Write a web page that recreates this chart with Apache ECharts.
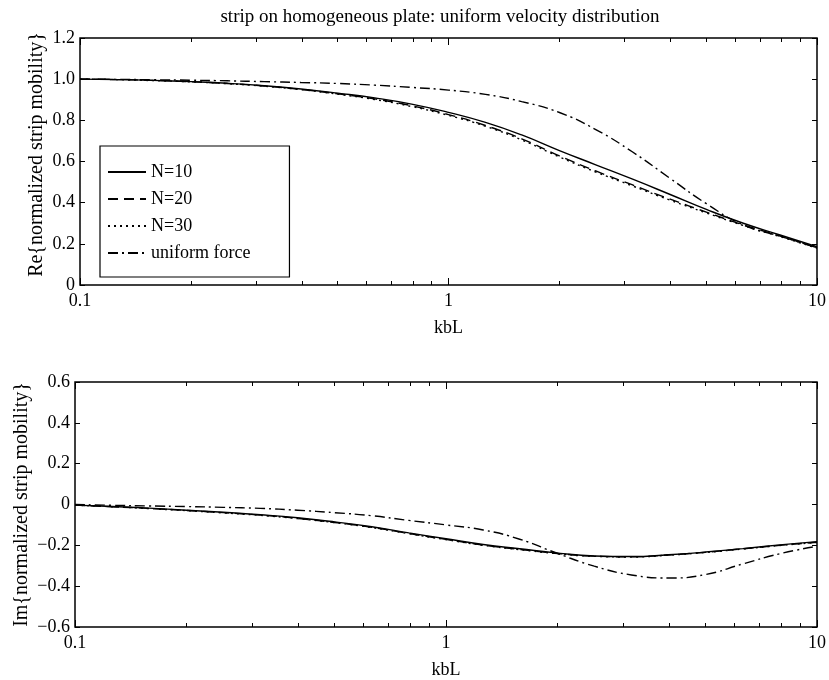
<!DOCTYPE html>
<html>
<head>
<meta charset="utf-8">
<script src="https://cdn.jsdelivr.net/npm/echarts@6/dist/echarts.min.js"></script>
<style>
  html, body { margin: 0; padding: 0; background: #fff; }
  #chart { width: 829px; height: 680px; }
</style>
</head>
<body>
<div id="chart"></div>
<script>
// Non-dimensional frequency kbL, ten points per decade
const kbL = [0.1, 0.126, 0.158, 0.2, 0.251, 0.316, 0.398, 0.501, 0.631, 0.794, 1.0, 1.26, 1.58, 2.0, 2.51, 3.16, 3.98, 5.01, 6.31, 7.94, 10];

// Real part of normalized strip mobility
const reN10     = [1.0, 0.998, 0.994, 0.988, 0.980, 0.968, 0.952, 0.932, 0.909, 0.879, 0.839, 0.790, 0.729, 0.653, 0.584, 0.514, 0.441, 0.367, 0.300, 0.243, 0.186];
const reN20     = [1.0, 0.998, 0.994, 0.988, 0.979, 0.967, 0.950, 0.929, 0.904, 0.871, 0.828, 0.775, 0.710, 0.627, 0.554, 0.486, 0.418, 0.354, 0.292, 0.238, 0.181];
const reN30     = [1.0, 0.998, 0.993, 0.987, 0.978, 0.966, 0.949, 0.927, 0.901, 0.867, 0.824, 0.771, 0.705, 0.622, 0.549, 0.481, 0.413, 0.350, 0.289, 0.235, 0.179];
const reUniform = [1.0, 0.999, 0.997, 0.995, 0.992, 0.988, 0.984, 0.979, 0.971, 0.960, 0.947, 0.926, 0.891, 0.838, 0.755, 0.646, 0.520, 0.395, 0.292, 0.237, 0.181];

// Imaginary part of normalized strip mobility
const imN10     = [-0.003, -0.010, -0.018, -0.028, -0.038, -0.050, -0.065, -0.085, -0.109, -0.139, -0.168, -0.196, -0.217, -0.238, -0.252, -0.255, -0.246, -0.233, -0.216, -0.198, -0.182];
const imN20     = [-0.003, -0.011, -0.019, -0.029, -0.040, -0.052, -0.068, -0.088, -0.112, -0.142, -0.171, -0.199, -0.220, -0.240, -0.253, -0.256, -0.247, -0.234, -0.217, -0.200, -0.185];
const imN30     = [-0.003, -0.011, -0.020, -0.030, -0.041, -0.053, -0.069, -0.089, -0.113, -0.143, -0.172, -0.200, -0.221, -0.241, -0.254, -0.257, -0.248, -0.235, -0.218, -0.201, -0.186];
const imUniform = [0.0, -0.004, -0.007, -0.010, -0.014, -0.019, -0.028, -0.040, -0.055, -0.078, -0.100, -0.125, -0.170, -0.240, -0.302, -0.345, -0.360, -0.343, -0.291, -0.241, -0.205];

// Axis ticks and labels
const xMajorTicks  = [0.1, 1, 10];
const xMinorTicks  = [0.2, 0.3, 0.4, 0.5, 0.6, 0.7, 0.8, 0.9, 2, 3, 4, 5, 6, 7, 8, 9];
const seriesNames  = ['N=10', 'N=20', 'N=30', 'uniform force'];
const dashTypes    = ['solid', [10, 6], [2, 4], [10, 4, 2, 4]];

const FONT = 'Liberation Serif';
const chart = echarts.init(document.getElementById('chart'), null, { renderer: 'canvas' });

function pairs(ys) { return kbL.map((k, i) => [k, ys[i]]); }

function fmtY(v) {
  if (Math.abs(v) < 1e-9) return '0';
  return v.toFixed(1).replace('-', '\u2212');
}

// Four log axes per panel: major/minor ticks along the bottom and top edges
function xAxesFor(gridIndex) {
  const base = {
    type: 'log', gridIndex, min: 0.1, max: 10, logBase: 10,
    axisLine: { show: false, onZero: false }, splitLine: { show: false }
  };
  const tick = (len, vals) => ({ show: true, inside: true, length: len, lineStyle: { color: '#000', width: 1 }, customValues: vals });
  return [
    Object.assign({}, base, {
      position: 'bottom',
      name: 'kbL', nameLocation: 'middle', nameGap: 34, nameMoveOverlap: false,
      nameTextStyle: { fontFamily: FONT, fontSize: 18, color: '#000' },
      axisTick: tick(7, xMajorTicks),
      axisLabel: { fontFamily: FONT, fontSize: 18, color: '#000', margin: 7, customValues: xMajorTicks,
                   formatter: v => String(+v.toPrecision(3)) }
    }),
    Object.assign({}, base, { position: 'bottom', axisTick: tick(4, xMinorTicks), axisLabel: { show: false } }),
    Object.assign({}, base, { position: 'top', axisTick: tick(7, xMajorTicks), axisLabel: { show: false } }),
    Object.assign({}, base, { position: 'top', axisTick: tick(4, xMinorTicks), axisLabel: { show: false } })
  ];
}

function yAxesFor(gridIndex, min, max, name, nameGap, namePad) {
  const tick = { show: true, inside: true, length: 5, lineStyle: { color: '#000', width: 1 } };
  return [
    {
      type: 'value', gridIndex, position: 'left', min, max, interval: 0.2,
      name, nameLocation: 'middle', nameGap, nameMoveOverlap: false,
      nameTextStyle: { fontFamily: FONT, fontSize: 20, color: '#000', padding: namePad },
      axisLine: { show: false, onZero: false }, splitLine: { show: false },
      axisTick: tick,
      axisLabel: { fontFamily: FONT, fontSize: 18, color: '#000', margin: 5, formatter: fmtY }
    },
    {
      type: 'value', gridIndex, position: 'right', min, max, interval: 0.2,
      axisLine: { show: false, onZero: false }, splitLine: { show: false },
      axisTick: tick, axisLabel: { show: false }
    }
  ];
}

const reSets = [reN10, reN20, reN30, reUniform];
const imSets = [imN10, imN20, imN30, imUniform];

const series = [];
seriesNames.forEach((name, i) => {
  const common = {
    name, type: 'line', showSymbol: false, symbol: 'none', smooth: 0.5,
    lineStyle: { color: '#000', width: 1.4, type: dashTypes[i] },
    itemStyle: { color: '#000' }, z: 3, animation: false
  };
  series.push(Object.assign({}, common, { xAxisIndex: 0, yAxisIndex: 0, data: pairs(reSets[i]) }));
  series.push(Object.assign({}, common, { xAxisIndex: 4, yAxisIndex: 2, data: pairs(imSets[i]) }));
});

chart.setOption({
  animation: false,
  backgroundColor: '#fff',
  title: {
    text: 'strip on homogeneous plate: uniform velocity distribution',
    left: 440, textAlign: 'center', top: 8, padding: 0,
    textStyle: { fontFamily: FONT, fontSize: 19, fontWeight: 'normal', color: '#000' }
  },
  legend: {
    data: seriesNames, orient: 'vertical', left: 100, top: 146,
    padding: [17, 39, 15, 7], itemGap: 9, itemWidth: 38, itemHeight: 14,
    backgroundColor: '#fff', borderColor: '#000', borderWidth: 1.2,
    selectedMode: false,
    itemStyle: { opacity: 0, borderWidth: 0 },
    textStyle: { fontFamily: FONT, fontSize: 18, color: '#000' }
  },
  grid: [
    { left: 80, right: 10, top: 38, height: 247, show: true, borderColor: '#000', borderWidth: 1.5, backgroundColor: 'transparent' },
    { left: 75, right: 12, top: 382, height: 246, show: true, borderColor: '#000', borderWidth: 1.5, backgroundColor: 'transparent' }
  ],
  xAxis: [...xAxesFor(0), ...xAxesFor(1)],
  yAxis: [
    ...yAxesFor(0, 0, 1.2, 'Re{normalized strip mobility}', 33, [0, 0, 0, 14]),
    ...yAxesFor(1, -0.6, 0.6, 'Im{normalized strip mobility}', 43, 0)
  ],
  series
});
</script>
</body>
</html>
